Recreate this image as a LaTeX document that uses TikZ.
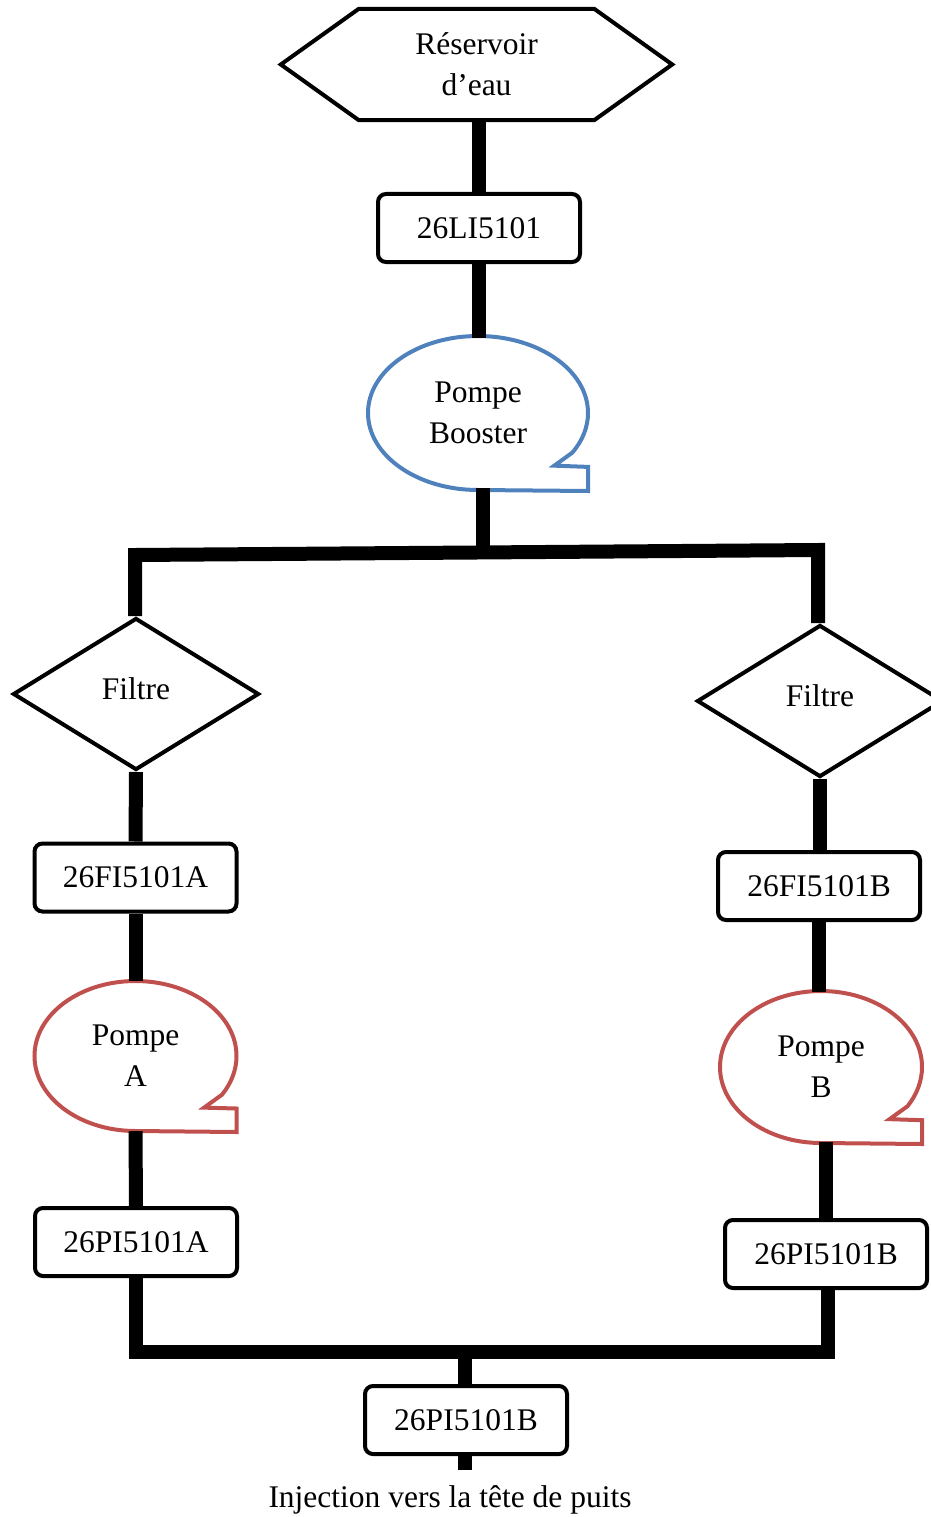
\documentclass[tikz,border=0pt]{standalone}
\usepackage{fontspec}
\setmainfont{Liberation Serif}
\usetikzlibrary{shapes.geometric,calc}
\definecolor{pumpblue}{HTML}{4F81BD}
\definecolor{pumpred}{HTML}{C0504D}
% speech-bubble outline around a pump node: #1 node, #2 colour, #3 x radius, #4 y radius
\newcommand\pumpbubble[4]{%
  \draw[bubble,#2] ([yshift=-#4]#1.center)
    arc[start angle=270,end angle=-31,x radius=#3,y radius=#4]
    -- ++(-18,-13)
    -- ([shift={({#3},{-0.7*#4})}]#1.center)
    -- ([shift={({#3},{-#4-1})}]#1.center) -- cycle;}
\begin{document}
\begin{tikzpicture}[x=1pt,y=1pt,
  every node/.style={font=\fontsize{31.5}{41}\selectfont, inner sep=0pt},
  tag/.style={draw, line width=4pt, rounded corners=8pt, minimum width=202pt, minimum height=68pt},
  filtre/.style={diamond, draw, line width=4pt, minimum width=246pt, minimum height=152pt,
    text depth=10pt},
  pump/.style={align=center, minimum width=200pt, minimum height=150pt},
  bubble/.style={line width=4pt, line join=miter},
  pipe/.style={line width=14pt, line join=miter}]
\useasboundingbox (0,0) rectangle (931,-1517);

% tank
\node[align=center, minimum width=391pt, minimum height=111pt] (res) at (476.5,-64.5) {Réservoir\\d’eau};
\draw[line width=4pt, line join=miter] (res.west) -- ([xshift=78]res.north west) -- ([xshift=-78]res.north east)
  -- (res.east) -- ([xshift=-78]res.south east) -- ([xshift=78]res.south west) -- cycle;

% main line
\node[tag] (li) at (479,-228) {26LI5101};
\node[pump] (boost) at (478,-413) {Pompe\\Booster};
\pumpbubble{boost}{pumpblue}{110}{77}

% branch A
\node[filtre] (fA) at (136,-694) {Filtre};
\node[tag] (fiA) at (135.5,-877.5) {26FI5101A};
\node[pump] (pmA) at (135.5,-1056) {Pompe\\A};
\pumpbubble{pmA}{pumpred}{101}{75}
\node[tag] (piA) at (136,-1242) {26PI5101A};

% branch B
\node[filtre] (fB) at (820,-701) {Filtre};
\node[tag] (fiB) at (819,-886) {26FI5101B};
\node[pump] (pmB) at (821,-1067) {Pompe\\B};
\pumpbubble{pmB}{pumpred}{101}{76}
\node[tag] (piB) at (826,-1254) {26PI5101B};

% outlet
\node[tag] (out) at (466,-1420) {26PI5101B};
\node (inj) at (450,-1500) {Injection vers la tête de puits};

% collectors
\coordinate (tl) at (135,-555);
\coordinate (tr) at (818,-550);
\coordinate (bus) at (0,-1352);
\coordinate (end) at (465,-1470);

% pipes
\draw[pipe] (li.north |- res.south) -- (li.north);
\draw[pipe] (li.south) -- (li.south |- boost.north);
\draw[pipe] ([xshift=5]boost.south) -- ([xshift=5]boost.south |- 0,-552);
\draw[pipe] (tl |- fA.north) -- (tl) -- (tr) -- (tr |- fB.north);
\draw[pipe] (fA.south) -- (fiA.north);
\draw[pipe] (fiA.south) -- (pmA.north);
\draw[pipe] (pmA.south) -- (piA.north);
\draw[pipe] (fB.south) -- (fB.south |- fiB.north);
\draw[pipe] (fiB.south) -- (fiB.south |- pmB.north);
\draw[pipe] (piB.north |- pmB.south) -- (piB.north);
\draw[pipe] (piA.south) -- (piA.south |- bus) -- ([xshift=2]piB.south |- bus) -- ([xshift=2]piB.south);
\draw[pipe] (end |- bus) -- (end |- out.north);
\draw[pipe] (end |- out.south) -- (end);
\end{tikzpicture}
\end{document}
